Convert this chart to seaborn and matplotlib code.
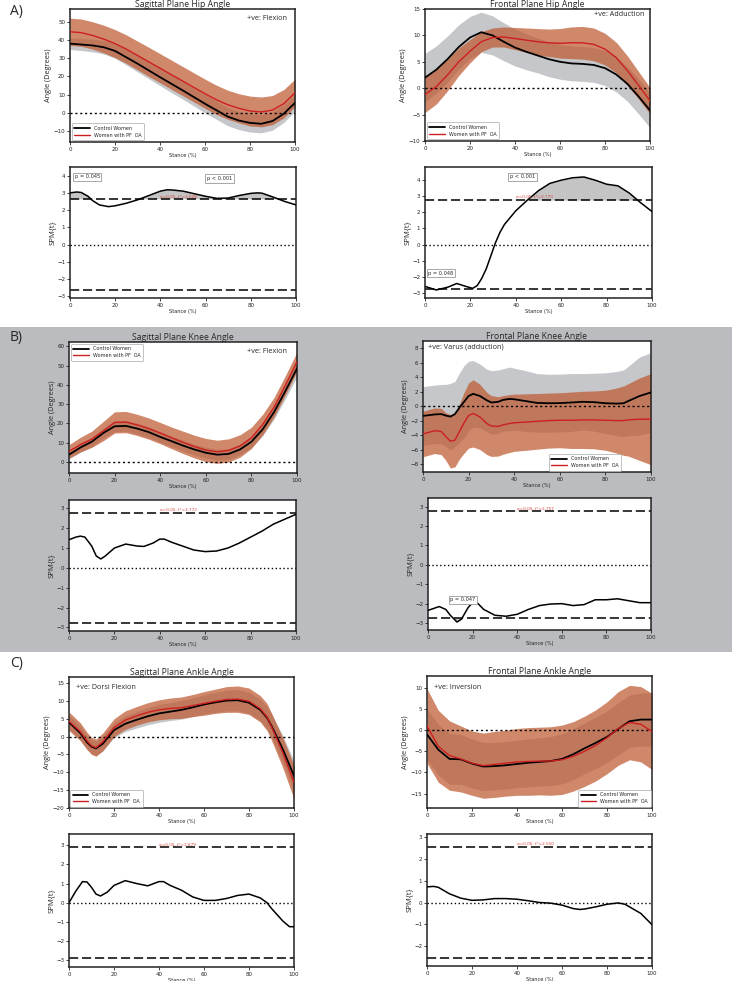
import numpy as np
import matplotlib
matplotlib.use('Agg')
import matplotlib.pyplot as plt
import seaborn as sns
from matplotlib.patches import Rectangle

sns.set_theme(style='ticks')
plt.rcParams['font.family'] = ['DejaVu Sans']
plt.rcParams['axes.unicode_minus'] = True

# ---------------- DATA ----------------
GRID5 = [0, 5, 10, 15, 20, 25, 30, 35, 40, 45, 50, 55, 60, 65, 70, 75, 80, 85, 90, 95, 100]

# A) Sagittal hip
hip_sag_x = GRID5
hip_sag_ctrl = [38, 37.5, 37, 36, 34, 30.5, 27, 23.3, 19.6, 16, 12.4, 8.7, 5, 1.5, -2, -4.2, -5.5, -6, -4.5, -0.5, 5.5]
hip_sag_ctrl_sd = [3.2, 3.3, 3.5, 3.7, 4, 4.2, 4.5, 4.6, 4.7, 4.8, 4.8, 4.9, 5, 5, 5, 5, 5, 5, 5, 4.8, 4.5]
hip_sag_pf = [44.5, 44, 42.5, 40.5, 38, 35, 31.5, 28, 24.5, 21, 17.5, 14, 10.5, 7.2, 4.5, 2.5, 1, 0.5, 1.5, 5, 11]
hip_sag_pf_sd = [7.5, 7.5, 7.5, 7.6, 7.7, 7.8, 7.9, 8, 8, 8, 8, 8, 8, 8, 8, 8, 8.2, 8.2, 8, 7.8, 7.5]

# A) Frontal hip
hip_fro_x = GRID5
hip_fro_ctrl = [2.0, 3.5, 5.5, 7.8, 9.6, 10.6, 10.0, 8.8, 7.7, 6.9, 6.2, 5.5, 5.0, 4.7, 4.6, 4.4, 3.8, 2.6, 0.8, -1.6, -4.2]
hip_fro_ctrl_sd = [4.6, 4.5, 4.4, 4.2, 4.0, 3.8, 3.7, 3.6, 3.5, 3.4, 3.3, 3.3, 3.3, 3.3, 3.3, 3.3, 3.3, 3.3, 3.3, 3.3, 3.3]
hip_fro_pf = [-1.2, 0.3, 2.5, 5.0, 7.0, 8.8, 9.6, 9.7, 9.4, 9.1, 8.8, 8.6, 8.5, 8.6, 8.6, 8.3, 7.4, 5.8, 3.3, 0.5, -2.4]
hip_fro_pf_sd = [3.4, 3.3, 3.0, 2.6, 2.2, 1.9, 1.8, 1.9, 2.1, 2.3, 2.5, 2.6, 2.8, 3.0, 3.1, 3.1, 3.0, 2.9, 2.8, 2.6, 2.5]

# B) Sagittal knee
knee_sag_x = GRID5
knee_sag_ctrl = [3.8, 7.5, 10.5, 15.0, 18.5, 18.7, 17.3, 15.5, 13.0, 10.8, 8.5, 6.5, 4.8, 3.8, 4.2, 6.5, 10.5, 17.0, 26.0, 37.0, 48.5]
knee_sag_ctrl_sd = [2.3, 2.4, 2.5, 2.6, 2.8, 2.8, 2.8, 2.8, 2.8, 2.8, 2.8, 2.8, 2.8, 2.8, 2.8, 2.8, 3.0, 3.3, 3.6, 4.0, 4.2]
knee_sag_pf = [5.5, 9.0, 11.8, 16.0, 20.5, 20.7, 19.2, 17.3, 15.0, 12.5, 10.2, 8.0, 6.2, 5.3, 6.0, 8.3, 12.5, 19.5, 28.5, 40.0, 52.0]
knee_sag_pf_sd = [3.5, 3.8, 4.2, 5.0, 5.5, 5.5, 5.5, 5.5, 5.5, 5.6, 5.8, 5.9, 6.0, 6.0, 6.0, 5.8, 5.5, 5.3, 5.1, 5.0, 5.0]

# B) Frontal knee
knee_fro_x = [0, 5, 8, 10, 12, 14, 16, 18, 20, 22, 25, 28, 30, 33, 35, 38, 40, 45, 50, 55, 60, 65, 70, 75, 80, 85, 88, 90, 95, 100]
knee_fro_ctrl = [-1.35, -1.15, -1.1, -1.3, -1.45, -1.1, -0.2, 0.6, 1.4, 1.7, 1.4, 0.8, 0.5, 0.6, 0.85, 1.0, 0.95, 0.7, 0.45, 0.4, 0.42, 0.5, 0.6, 0.55, 0.4, 0.35, 0.4, 0.7, 1.4, 1.9]
knee_fro_ctrl_sd = [4.05, 4.05, 4.1, 4.3, 4.6, 4.5, 4.8, 5.0, 4.8, 4.6, 4.4, 4.3, 4.4, 4.4, 4.3, 4.4, 4.3, 4.2, 4.05, 4.0, 4.0, 4.0, 3.9, 4.0, 4.2, 4.45, 4.6, 4.8, 5.4, 5.5]
knee_fro_pf = [-3.85, -3.4, -3.5, -4.2, -4.85, -4.7, -3.5, -2.3, -1.3, -1.0, -1.5, -2.4, -2.75, -2.8, -2.6, -2.4, -2.3, -2.2, -2.1, -2.0, -1.95, -1.95, -1.9, -1.9, -1.95, -2.0, -2.0, -1.9, -1.8, -1.8]
knee_fro_pf_sd = [3.15, 3.15, 3.2, 3.3, 3.7, 3.7, 3.8, 4.2, 4.5, 4.65, 4.5, 4.3, 4.2, 4.1, 4.05, 4.0, 3.95, 3.9, 3.85, 3.8, 3.8, 3.9, 3.95, 4.0, 4.15, 4.5, 4.8, 5.0, 5.7, 6.3]

# C) Sagittal ankle
ank_sag_x = [0, 5, 8, 10, 12, 15, 20, 25, 30, 35, 40, 45, 50, 55, 60, 65, 70, 75, 80, 85, 88, 90, 95, 100]
ank_sag_ctrl = [4.0, 1.0, -1.6, -2.8, -3.3, -2.0, 1.8, 3.6, 4.7, 5.7, 6.5, 7.0, 7.5, 8.2, 9.0, 9.6, 10.1, 10.2, 9.5, 7.5, 5.3, 3.0, -3.5, -11.0]
ank_sag_ctrl_sd = [2.0, 2.0, 2.0, 2.0, 2.0, 2.0, 2.1, 2.2, 2.3, 2.4, 2.5, 2.5, 2.6, 2.6, 2.7, 2.8, 2.9, 3.0, 3.0, 3.0, 3.2, 3.4, 3.8, 4.2]
ank_sag_pf = [4.3, 1.4, -1.2, -2.6, -3.1, -1.5, 2.5, 4.6, 5.8, 6.8, 7.5, 7.9, 8.1, 8.7, 9.3, 9.9, 10.4, 10.5, 9.9, 7.8, 5.5, 2.8, -4.5, -12.8]
ank_sag_pf_sd = [2.6, 2.5, 2.4, 2.4, 2.4, 2.5, 2.5, 2.6, 2.6, 2.7, 2.8, 2.9, 3.0, 3.1, 3.3, 3.4, 3.6, 3.7, 3.7, 3.7, 3.8, 3.8, 4.2, 4.7]

# C) Frontal ankle
ank_fro_x = GRID5
ank_fro_ctrl = [-1.0, -4.6, -6.8, -6.9, -7.9, -8.6, -8.5, -8.3, -8.0, -7.7, -7.5, -7.3, -6.8, -5.7, -4.3, -3.0, -1.6, 0.3, 2.1, 2.5, 2.5]
ank_fro_ctrl_sd = [6.0, 6.0, 6.0, 5.9, 5.8, 5.7, 5.6, 5.6, 5.6, 5.7, 5.7, 5.8, 5.9, 6.0, 6.0, 6.1, 6.1, 6.2, 6.2, 6.3, 6.3]
ank_fro_pf = [1.0, -3.8, -6.0, -6.8, -7.8, -8.4, -8.1, -7.8, -7.5, -7.4, -7.3, -7.3, -7.0, -6.2, -5.0, -3.6, -1.8, 0.4, 1.8, 1.4, -0.3]
ank_fro_pf_sd = [8.8, 8.5, 8.2, 7.8, 7.6, 7.7, 7.8, 7.8, 7.9, 8.0, 8.0, 8.1, 8.2, 8.2, 8.3, 8.4, 8.5, 8.7, 8.8, 8.9, 9.0]

# SPM{t} curves
spm_hip_sag_x = [0, 3, 5, 8, 10, 13, 17, 20, 25, 30, 35, 40, 43, 45, 50, 55, 60, 65, 70, 75, 80, 83, 85, 90, 95, 100]
spm_hip_sag_t = [3.0, 3.05, 3.02, 2.8, 2.55, 2.3, 2.2, 2.25, 2.4, 2.6, 2.85, 3.1, 3.18, 3.17, 3.1, 2.95, 2.8, 2.68, 2.7, 2.85, 2.97, 3.0, 2.98, 2.75, 2.5, 2.3]
spm_hip_fro_x = [0, 5, 10, 14, 18, 21, 23, 25, 27, 29, 31, 33, 35, 40, 45, 50, 55, 60, 65, 70, 75, 80, 85, 90, 95, 100]
spm_hip_fro_t = [-2.6, -2.82, -2.65, -2.42, -2.6, -2.72, -2.55, -2.1, -1.5, -0.7, 0.1, 0.75, 1.25, 2.1, 2.75, 3.35, 3.8, 4.0, 4.15, 4.2, 4.0, 3.75, 3.65, 3.2, 2.6, 2.05]
spm_knee_sag_x = [0, 3, 5, 7, 10, 12, 14, 16, 20, 25, 30, 33, 37, 40, 42, 45, 50, 55, 60, 65, 70, 75, 80, 85, 90, 95, 100]
spm_knee_sag_t = [1.42, 1.55, 1.6, 1.55, 1.1, 0.6, 0.45, 0.6, 1.0, 1.2, 1.1, 1.08, 1.25, 1.45, 1.45, 1.3, 1.1, 0.9, 0.82, 0.85, 1.0, 1.25, 1.55, 1.85, 2.2, 2.45, 2.7]
spm_knee_fro_x = [0, 5, 8, 10, 13, 15, 18, 20, 22, 25, 30, 35, 40, 45, 50, 55, 60, 65, 70, 75, 80, 85, 90, 95, 100]
spm_knee_fro_t = [-2.35, -2.15, -2.3, -2.6, -2.95, -2.8, -2.2, -1.95, -1.95, -2.3, -2.6, -2.65, -2.55, -2.3, -2.1, -2.02, -2.0, -2.1, -2.05, -1.8, -1.8, -1.75, -1.85, -1.95, -1.95]
spm_ank_sag_x = [0, 3, 6, 8, 10, 12, 14, 17, 20, 25, 30, 35, 40, 42, 45, 50, 55, 60, 65, 70, 75, 80, 85, 88, 90, 95, 98, 100]
spm_ank_sag_t = [0, 0.6, 1.1, 1.08, 0.8, 0.45, 0.35, 0.55, 0.9, 1.15, 1.0, 0.88, 1.1, 1.1, 0.9, 0.65, 0.3, 0.12, 0.12, 0.22, 0.38, 0.45, 0.25, 0.0, -0.3, -0.95, -1.25, -1.25]
spm_ank_fro_x = [0, 3, 5, 10, 15, 20, 25, 30, 35, 40, 45, 50, 55, 60, 65, 68, 70, 75, 80, 85, 88, 90, 95, 100]
spm_ank_fro_t = [0.72, 0.74, 0.7, 0.4, 0.2, 0.1, 0.12, 0.18, 0.18, 0.15, 0.08, 0.0, -0.03, -0.12, -0.28, -0.32, -0.3, -0.2, -0.08, -0.02, -0.08, -0.2, -0.5, -1.02]

# critical thresholds
tcrit = {'hip_sag': 2.628, 'hip_fro': 2.770, 'knee_sag': 2.772,
         'knee_fro': 2.757, 'ank_sag': 2.879, 'ank_fro': 2.550}

titles = ['Sagittal Plane Hip Angle', 'Frontal Plane Hip Angle',
          'Sagittal Plane Knee Angle', 'Frontal Plane Knee Angle',
          'Sagittal Plane Ankle Angle', 'Frontal Plane Ankle Angle']
notes = ['+ve: Flexion', '+ve: Adduction', '+ve: Flexion',
         '+ve: Varus (adduction)', '+ve: Dorsi Flexion', '+ve: Inversion']
legend_labels = ['Control Women', 'Women with PF  OA']

# ---------------- FIGURE ----------------
W, H = 732, 981
fig = plt.figure(figsize=(W / 100, H / 100), dpi=100)
fig.patch.set_facecolor('white')
fig.patches.append(Rectangle((0, 1 - 652 / H), 1, 325 / H, transform=fig.transFigure,
                             facecolor='#bbbcc0', edgecolor='none', zorder=-10))

def pax(l, t, r, b):
    ax = fig.add_axes([l / W, 1 - b / H, (r - l) / W, (b - t) / H])
    ax.set_facecolor('white')
    for s in ax.spines.values():
        s.set_linewidth(1.1)
        s.set_color('#222222')
    ax.tick_params(labelsize=4, length=2, width=0.6, pad=1.5, colors='#222222')
    ax.set_xlim(0, 100)
    ax.set_xticks([0, 20, 40, 60, 80, 100])
    ax.set_xlabel('Stance (%)', fontsize=3.6, labelpad=0.5, color='#222222')
    return ax

CTRL_FILL = '#c6c7ca'
PF_FILL = '#bf5a32'
PF_LINE = '#cc1f1f'

def angle_panel(ax, x, c, csd, p, psd, ylim, yticks, title, note, note_pos, note_ha, leg_kw):
    x = np.asarray(x); c = np.asarray(c); csd = np.asarray(csd)
    p = np.asarray(p); psd = np.asarray(psd)
    ax.fill_between(x, c - csd, c + csd, color=CTRL_FILL, lw=0, zorder=1)
    ax.fill_between(x, p - psd, p + psd, color=PF_FILL, alpha=0.72, lw=0, zorder=2)
    ax.axhline(0, color='black', ls=(0, (1.5, 2)), lw=1.0, zorder=3)
    sns.lineplot(x=x, y=c, ax=ax, color='black', lw=1.3, label=legend_labels[0], zorder=5)
    sns.lineplot(x=x, y=p, ax=ax, color=PF_LINE, lw=1.0, label=legend_labels[1], zorder=6)
    ax.set_ylim(*ylim)
    ax.set_yticks(yticks)
    ax.set_ylabel('Angle (Degrees)', fontsize=5.3, labelpad=1, family='Open Sans')
    ax.set_title(title, fontsize=6.2, pad=1.5, family='Open Sans')
    ax.text(note_pos[0], note_pos[1], note, transform=ax.transAxes, ha=note_ha, va='center',
            fontsize=5.2, family='Open Sans')
    leg = ax.legend(fontsize=3.5, handlelength=3.2, borderpad=0.5, labelspacing=0.35,
                    handletextpad=0.8, fancybox=True, framealpha=1, **leg_kw)
    leg.get_frame().set_linewidth(0.5)
    leg.get_frame().set_edgecolor('#aaaaaa')

def spm_panel(ax, x, t, tc, ylim, yticks, pboxes):
    x = np.asarray(x); t = np.asarray(t)
    xf = np.linspace(0, 100, 801)
    tf = np.interp(xf, x, t)
    ax.fill_between(xf, tc, tf, where=tf > tc, color='#c4c4c4', lw=0, zorder=1)
    ax.fill_between(xf, -tc, tf, where=tf < -tc, color='#c4c4c4', lw=0, zorder=1)
    ax.axhline(0, color='black', ls=(0, (1, 1.8)), lw=1.0, zorder=2)
    ax.axhline(tc, color='black', ls=(0, (6, 2.5)), lw=1.1, zorder=2)
    ax.axhline(-tc, color='black', ls=(0, (6, 2.5)), lw=1.1, zorder=2)
    sns.lineplot(x=x, y=t, ax=ax, color='black', lw=1.1, zorder=4)
    ax.text(40, tc + 0.04, '\u03b1=0.05, t*=%.3f' % tc, fontsize=3.0, color='#d9423a',
            ha='left', va='bottom', zorder=5)
    for (px, py, s) in pboxes:
        ax.text(px, py, s, fontsize=3.6, ha='left', va='center', zorder=6,
                bbox=dict(boxstyle='square,pad=0.35', fc='white', ec='#999999', lw=0.6))
    ax.set_ylim(*ylim)
    ax.set_yticks(yticks)
    ax.set_ylabel('SPM{t}', fontsize=5.6, labelpad=1, family='Open Sans')

# ---- A ----
a1 = pax(70, 9, 295, 142)
angle_panel(a1, hip_sag_x, hip_sag_ctrl, hip_sag_ctrl_sd, hip_sag_pf, hip_sag_pf_sd,
            (-16, 57), [-10, 0, 10, 20, 30, 40, 50], titles[0], notes[0], (0.965, 0.925), 'right',
            dict(loc='lower left', borderaxespad=0.4))
a2 = pax(425, 9, 650, 141)
angle_panel(a2, hip_fro_x, hip_fro_ctrl, hip_fro_ctrl_sd, hip_fro_pf, hip_fro_pf_sd,
            (-10, 15), [-10, -5, 0, 5, 10, 15], titles[1], notes[1], (0.975, 0.955), 'right',
            dict(loc='lower left', borderaxespad=0.4))
s1 = pax(70, 167, 296, 298)
spm_panel(s1, spm_hip_sag_x, spm_hip_sag_t, tcrit['hip_sag'], (-3.1, 4.5), list(range(-3, 5)),
          [(2, 3.93, 'p = 0.045'), (60.5, 3.83, 'p < 0.001')])
s2 = pax(425, 167, 652, 298)
spm_panel(s2, spm_hip_fro_x, spm_hip_fro_t, tcrit['hip_fro'], (-3.32, 4.82), list(range(-3, 5)),
          [(1.5, -1.78, 'p = 0.048'), (37.5, 4.2, 'p < 0.001')])

# ---- B ----
b1 = pax(69, 342, 297, 473)
angle_panel(b1, knee_sag_x, knee_sag_ctrl, knee_sag_ctrl_sd, knee_sag_pf, knee_sag_pf_sd,
            (-5.7, 62.2), [0, 10, 20, 30, 40, 50, 60], titles[2], notes[2], (0.955, 0.93), 'right',
            dict(loc='upper left', borderaxespad=0.4))
b2 = pax(423, 341, 651, 472)
angle_panel(b2, knee_fro_x, knee_fro_ctrl, knee_fro_ctrl_sd, knee_fro_pf, knee_fro_pf_sd,
            (-9.1, 9.0), [-8, -6, -4, -2, 0, 2, 4, 6, 8], titles[3], notes[3], (0.02, 0.955), 'left',
            dict(loc='lower left', bbox_to_anchor=(0.545, 0.0), borderaxespad=0.3))
s3 = pax(69, 500, 296, 631)
spm_panel(s3, spm_knee_sag_x, spm_knee_sag_t, tcrit['knee_sag'], (-3.18, 3.42), list(range(-3, 4)), [])
s4 = pax(428, 498, 651, 630)
spm_panel(s4, spm_knee_fro_x, spm_knee_fro_t, tcrit['knee_fro'], (-3.36, 3.45), list(range(-3, 4)),
          [(10, -1.81, 'p = 0.047')])

# ---- C ----
c1 = pax(69, 677, 294, 808)
angle_panel(c1, ank_sag_x, ank_sag_ctrl, ank_sag_ctrl_sd, ank_sag_pf, ank_sag_pf_sd,
            (-20, 16.7), [-20, -15, -10, -5, 0, 5, 10, 15], titles[4], notes[4], (0.03, 0.92), 'left',
            dict(loc='lower left', borderaxespad=0.3))
c2 = pax(427, 676, 652, 808)
angle_panel(c2, ank_fro_x, ank_fro_ctrl, ank_fro_ctrl_sd, ank_fro_pf, ank_fro_pf_sd,
            (-18.4, 12.8), [-15, -10, -5, 0, 5, 10], titles[5], notes[5], (0.03, 0.91), 'left',
            dict(loc='lower right', borderaxespad=0.3))
s5 = pax(69, 834, 294, 967)
spm_panel(s5, spm_ank_sag_x, spm_ank_sag_t, tcrit['ank_sag'], (-3.35, 3.58), list(range(-3, 4)), [])
s6 = pax(427, 834, 652, 966)
spm_panel(s6, spm_ank_fro_x, spm_ank_fro_t, tcrit['ank_fro'], (-2.92, 3.15), list(range(-2, 4)), [])

# section labels
for lab, yy in [('A)', 12), ('B)', 338), ('C)', 663)]:
    fig.text(10 / W, 1 - yy / H, lab, fontsize=10, family='Open Sans', ha='left', va='center')

fig.savefig('out.png', dpi=100)
